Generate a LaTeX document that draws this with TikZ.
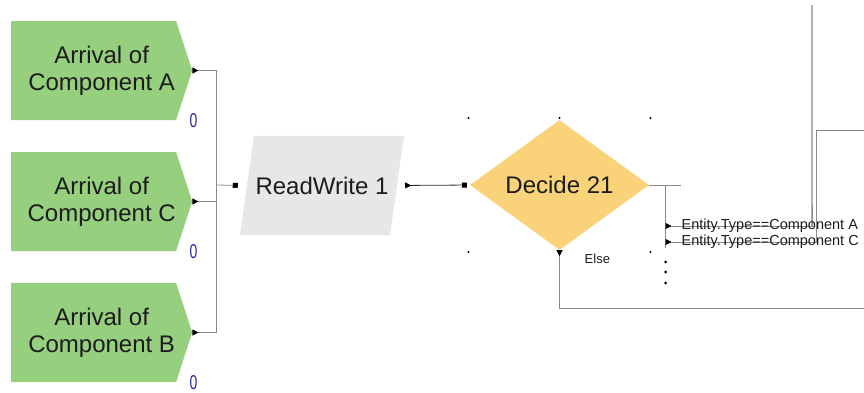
\documentclass[tikz,border=0pt]{standalone}
\usepackage{fontspec}
\setmainfont{Liberation Sans}
\usetikzlibrary{arrows.meta,positioning,calc,shapes.geometric,shapes.symbols}
\definecolor{createGreen}{HTML}{96CF7E}
\definecolor{moduleGrey}{HTML}{E6E7E9}
\definecolor{decideGold}{HTML}{FAD27A}
\definecolor{countBlue}{HTML}{26269A}
\definecolor{wireGrey}{HTML}{8A8A8A}
\definecolor{inkText}{HTML}{1C1C1C}

\tikzset{
  create/.style={signal,signal to=east,signal pointer angle=144,fill=createGreen,
    minimum width=181pt,minimum height=99pt,inner sep=0pt,align=center,anchor=west,
    text=inkText,font=\fontsize{24}{27}\selectfont},
  readwrite/.style={trapezium,trapezium left angle=82,trapezium right angle=98,
    trapezium stretches body=true,fill=moduleGrey,minimum width=164pt,
    inner xsep=0pt,inner ysep=40.7pt,text=inkText,font=\fontsize{24}{27}\selectfont},
  decide/.style={diamond,fill=decideGold,minimum width=179pt,minimum height=130pt,
    inner sep=0pt,text=inkText,font=\fontsize{24}{27}\selectfont},
  count/.style={text=countBlue,inner sep=0pt,font=\fontsize{20}{20}\selectfont},
  cond/.style={anchor=west,inner sep=0pt,text=inkText,font=\fontsize{14.5}{16}\selectfont},
  wire/.style={draw=wireGrey,line width=0.8pt},
  exit/.style={{Triangle[reversed,length=6pt,width=6pt,color=black]}-},
  entry/.style={-{Square[length=5pt,width=5pt,color=black]}},
  pass/.style={{Triangle[reversed,length=6pt,width=6pt,color=black]}-{Square[length=5pt,width=5pt,color=black]}},
}

\begin{document}
\begin{tikzpicture}[x=1pt,y=-1pt]
\useasboundingbox (0,0) rectangle (864,392);
% arrivals and their counters
\foreach \n/\y in {A/70.5,C/201.5,B/332.5}{
  \node[create] (arr\n) at (11,\y) {\hspace*{16pt}Arrival of\\\hspace*{16pt}Component \n};
  \node[count] (cnt\n) at ($(arr\n.east)+(1,50)$) {\scalebox{0.7}[1]{0}};
}
\node[readwrite] (rw) at (322,185.5) {ReadWrite 1};
\node[decide] (dec) at (559.5,185) {Decide 21};

% merge into ReadWrite
\coordinate (trunk) at (216,185);
\foreach \n in {A,C,B} \draw[wire,exit] (arr\n.east) -| (trunk);
\draw[wire,entry,shorten >=9pt] (trunk) -- (rw.west);
\draw[line width=0.8pt,draw=black!80,pass,shorten <=8pt,shorten >=3pt] (rw.east) -- (dec.west);

% decide branches
\coordinate (toA) at (812,5);
\coordinate (toC) at (864,130);
\coordinate (toElse) at (864,308);
\coordinate (brA) at ($(dec.center)+(106,41)$);
\coordinate (brC) at ($(dec.center)+(106,57)$);
\draw[wire] (dec.east) -- ++(32,0);
\draw[wire] ($(dec.east)+(16,0)$) -- ++(0,63);
\draw[draw=black!30,line width=1.5pt] (toA) -- ($(toA)+(0,221)$);
\draw[wire,exit] (brA) -| ($(toA)+(0,200)$);
\draw[wire,exit] (brC) -- ++(151,0) |- (toC);
\draw[wire,exit] (dec.south) |- (toElse);
\node[cond] (lblA) at ($(brA)+(16,0)$) {Entity.Type==Component A};
\node[cond] (lblC) at ($(brC)+(16,0)$) {Entity.Type==Component C};
\node[cond,font=\fontsize{13}{14}\selectfont] (lblElse) at ($(dec.south)+(25,9)$) {Else};

% handles and more-branches dots
\foreach \dx/\dy in {-91/-67,0/-67,91/-67,-91/67,91/67}
  \fill ($(dec.center)+(\dx,\dy)$) circle (1.1pt);
\foreach \dy in {77,87,98}
  \fill ($(dec.center)+(106,\dy)$) circle (1.5pt);
\end{tikzpicture}
\end{document}
